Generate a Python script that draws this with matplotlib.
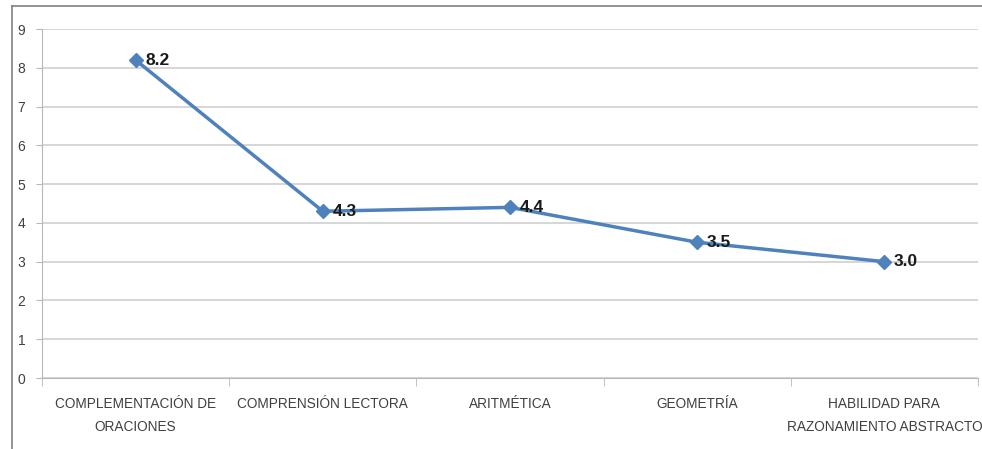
import matplotlib.pyplot as plt
from matplotlib.lines import Line2D
import numpy as np

# ── Data ──────────────────────────────────────────────────────────────────
categories = ['COMPLEMENTACIÓN DE\nORACIONES', 'COMPRENSIÓN LECTORA', 'ARITMÉTICA',
              'GEOMETRÍA', 'HABILIDAD PARA\nRAZONAMIENTO ABSTRACTO']
values = [8.2, 4.3, 4.4, 3.5, 3.0]
y_ticks = [0, 1, 2, 3, 4, 5, 6, 7, 8, 9]

plt.rcParams['font.family'] = ['Liberation Sans', 'DejaVu Sans']

W, H = 982, 449
fig = plt.figure(figsize=(W / 100, H / 100), dpi=100)
ax = fig.add_axes([42 / W, 1 - 378 / H, (978 - 42) / W, (378 - 29) / H])

x = np.arange(len(categories))
ax.plot(x, values, color='#4F81BD', linewidth=2.5, marker='D', markersize=7,
        markerfacecolor='#4F81BD', markeredgecolor='#4F81BD', zorder=3)
for xi, v in zip(x, values):
    ax.annotate(f'{v:.1f}', (xi, v), xytext=(7, 0), textcoords='offset points',
                ha='left', va='center', fontsize=12.5, fontweight='bold', color='#1a1a1a')

ax.set_xlim(-0.5, len(categories) - 0.5)
ax.set_ylim(0, 9)
ax.set_yticks(y_ticks)
ax.set_yticklabels([str(t) for t in y_ticks], fontsize=10, color='#404040')
ax.yaxis.grid(True, color='#cfcfcf', linewidth=1.2)
ax.set_axisbelow(True)

# category labels centred, tick marks at boundaries
ax.set_xticks(x)
ax.set_xticklabels(categories, fontsize=9.8, color='#404040', linespacing=1.75)
ax.tick_params(axis='x', length=0, pad=14)
ax.set_xticks(np.arange(-0.5, len(categories)), minor=True)
ax.tick_params(axis='x', which='minor', length=6, color='#b8b8b8')
ax.tick_params(axis='y', length=4, color='#b8b8b8', pad=8)

for s in ['top', 'right']:
    ax.spines[s].set_visible(False)
ax.spines['left'].set_color('#b8b8b8')
ax.spines['bottom'].set_color('#b8b8b8')

# outer chart frame (top and left edges visible)
fig.add_artist(Line2D([12 / W, 1], [1 - 6 / H, 1 - 6 / H], color='#808080', linewidth=1.2))
fig.add_artist(Line2D([12 / W, 12 / W], [0, 1 - 6 / H], color='#808080', linewidth=1.2))

fig.savefig('out.png', dpi=100)
